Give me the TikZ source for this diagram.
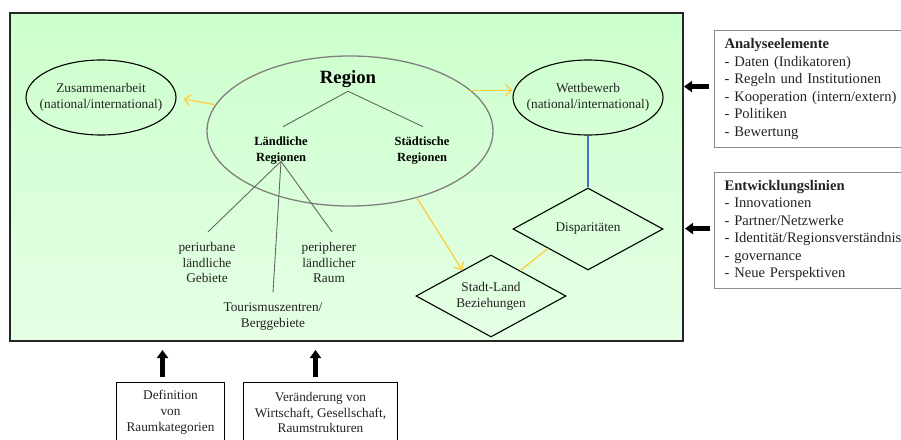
\documentclass[tikz,border=0pt]{standalone}
\usepackage{fontspec}
\setmainfont{Liberation Serif}
\usetikzlibrary{shapes.geometric,arrows.meta,calc}
\definecolor{frametop}{RGB}{204,255,204}
\definecolor{framebot}{RGB}{229,255,229}
\definecolor{yel}{RGB}{255,206,64}
\definecolor{blu}{RGB}{68,114,196}
\definecolor{txtc}{RGB}{35,35,35}
\tikzset{
  txt/.style={font=\fontsize{13.3}{15.8}\selectfont, text=txtc, align=center, inner sep=0pt},
  btxt/.style={font=\fontsize{12.5}{16}\selectfont\bfseries, text=black, align=center, inner sep=0pt},
  oval/.style={ellipse, draw=black, line width=1.1pt, minimum width=150pt, minimum height=75pt, txt, inner xsep=-15pt, inner ysep=-10pt},
  dia/.style={diamond, draw=black, line width=1.1pt, minimum width=150pt, minimum height=82pt, txt, inner sep=-12pt},
  treeline/.style={draw=black!60, line width=0.9pt},
  yarrow/.style={draw=yel, line width=1.3pt, -{Straight Barb[length=6pt,width=11pt]}},
  yline/.style={draw=yel, line width=1.3pt},
  bigarrow/.style={draw=black, line width=5pt, -{Triangle[length=8pt,width=11pt]}},
  sidebox/.style={draw=black!45, line width=1.1pt, anchor=north west, align=left,
    font=\fontsize{14.6}{17.5}\selectfont, text=txtc, inner xsep=10pt, inner ysep=0pt, text width=190pt},
  botbox/.style={draw=black, line width=1pt, anchor=north west, txt}
}
\begin{document}
\begin{tikzpicture}[x=1pt,y=-1pt]
\useasboundingbox (0,0) rectangle (901,439);

% main frame
\node[rectangle, draw=black!85, line width=1.8pt, top color=frametop, bottom color=framebot,
      minimum width=673pt, minimum height=328pt, anchor=north west, outer sep=0pt, inner sep=0pt]
      (frame) at (10,13) {};

% ellipses
\node[oval] (zus) at (101,97.5) {Zusammenarbeit\\(national/international)};
\node[oval] (wett) at (588,97.5) {Wettbewerb\\(national/international)};
\node[ellipse, draw=black!50, line width=1.3pt, minimum width=286pt, minimum height=150pt] (region) at (350,131) {};

% region tree
\node[font=\fontsize{18.7}{22}\selectfont\bfseries, inner sep=3pt] (regiontxt) at (348,79.5) {Region};
\node[btxt] (laend) at (281,150.4) {Ländliche\\Regionen};
\node[btxt] (staedt) at (422,150.4) {Städtische\\Regionen};
\draw[treeline] (regiontxt.south) -- ($(laend.north)+(2pt,9.8pt)$);
\draw[treeline] (regiontxt.south) -- ($(staedt.north)+(1pt,9.8pt)$);

\node[txt, inner ysep=10pt] (peri) at (207,262.5) {periurbane\\ländliche\\Gebiete};
\node[txt, inner ysep=10pt] (periph) at (329,262.5) {peripherer\\ländlicher\\Raum};
\node[txt, inner ysep=10pt] (tour) at (273,316.2) {Tourismuszentren/\\Berggebiete};
\draw[treeline] ($(laend.south)+(0,3pt)$) -- ($(peri.north)+(1pt,0)$);
\draw[treeline] ($(laend.south)+(0,3pt)$) -- (tour.north);
\draw[treeline] ($(laend.south)+(0,3pt)$) -- ($(periph.north)+(3pt,0)$);

% diamonds
\node[dia] (disp) at (588,229) {Disparitäten};
\node[dia] (stadt) at (491,296) {Stadt-Land\\Beziehungen};

% connectors
\draw[yarrow, shorten >=7pt] (region.169) -- (zus.east);
\draw[yarrow] ($(region.19)+(0,-0.6pt)$) -- ($(region.19 -| wett.west)+(0,-0.6pt)$);
\draw[yarrow] (region.-45) -- (stadt.138);
\draw[yline] (disp.206) -- (stadt.41);
\draw[draw=blu, line width=1.3pt] (wett.south) -- (disp.north);

% side boxes
\node[sidebox, minimum height=117pt] (ana) at (714,30)
  {\textbf{Analyseelemente}\\- Daten (Indikatoren)\\- Regeln und Institutionen\\- Kooperation (intern/extern)\\- Politiken\\- Bewertung};
\node[sidebox, minimum height=116pt] (entw) at (714,172)
  {\textbf{Entwicklungslinien}\\- Innovationen\\- Partner/Netzwerke\\- Identität/Regionsverständnis\\- governance\\- Neue Perspektiven};
\draw[bigarrow] ($(ana.west)+(-5pt,2.5pt)$) -- ($(ana.west)+(-30pt,2.5pt)$);
\draw[bigarrow] ($(entw.west)+(-4pt,2pt)$) -- ($(entw.west)+(-29pt,2pt)$);

% bottom boxes
\node[botbox, minimum width=108pt, minimum height=60pt] (def) at (116,382) {Definition\\von\\Raumkategorien};
\node[botbox, minimum width=154pt, minimum height=60pt] (ver) at (243,382) {Veränderung von\\Wirtschaft, Gesellschaft,\\Raumstrukturen};
\draw[bigarrow] ($(def.north)+(-8pt,5pt)$) -- ($(def.north)+(-8pt,32pt)$);
\draw[bigarrow] ($(ver.north)+(-5pt,5pt)$) -- ($(ver.north)+(-5pt,32pt)$);
\end{tikzpicture}
\end{document}
